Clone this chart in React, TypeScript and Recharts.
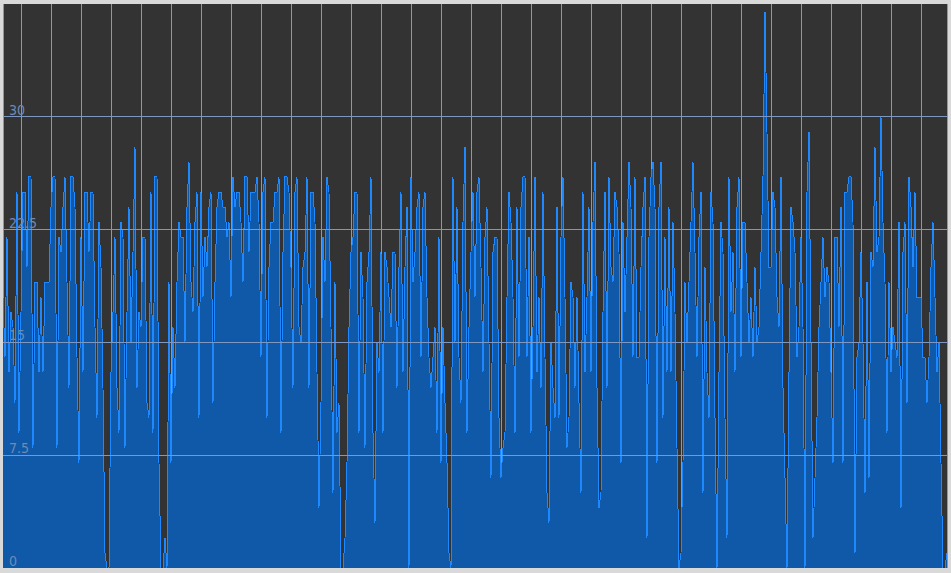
import { AreaChart, Area, XAxis, YAxis, CartesianGrid, ReferenceLine } from 'recharts';

// values, left to right, one point every 2px
const part1 = [18, 14, 22, 13, 17, 16, 11, 25, 9, 17, 25, 25, 20, 26, 26, 8, 19, 19, 13, 18, 13, 19, 19, 19, 24, 26, 26, 8, 22, 21, 24, 26, 19, 12, 26, 26, 24, 14, 7, 22, 13, 25, 25, 21, 25, 25, 16, 10, 23, 20, 12, 1, 0, 0, 13, 17, 22, 12, 9];
const part2 = [23, 22, 8, 17, 24, 15, 21, 28, 12, 17, 16, 22, 22, 11, 10, 25, 9, 26, 26, 7, 0, 0, 2, 0, 19, 7, 16, 12, 19, 23, 22, 22, 15, 24, 27, 19, 17, 23, 25, 10, 25, 18, 22, 20, 24, 25, 11, 19, 24, 25, 25, 24, 24, 22, 23, 18, 26, 24, 25, 25];
const part3 = [23, 19, 26, 26, 21, 25, 25, 25, 26, 23, 14, 25, 26, 10, 20, 23, 23, 25, 25, 26, 9, 21, 26, 26, 25, 20, 12, 25, 26, 16, 15, 20, 21, 26, 12, 25, 25, 23, 13, 4, 11, 22, 19, 26, 25, 16, 5, 19, 9, 11, 0, 0, 2, 7, 16, 21, 22, 25, 25];
const part4 = [9, 21, 18, 8, 19, 21, 26, 9, 3, 15, 13, 21, 9, 21, 20, 18, 16, 21, 21, 12, 20, 25, 13, 20, 24, 0, 26, 19, 21, 24, 25, 14, 24, 25, 18, 14, 12, 14, 16, 9, 22, 7, 16, 11, 7, 1, 0, 26, 15, 24, 14, 11, 23, 28, 9, 16, 21, 25, 18];
const part5 = [25, 26, 20, 13, 22, 24, 15, 6, 21, 22, 22, 10, 6, 8, 9, 18, 25, 23, 18, 9, 24, 14, 24, 26, 26, 14, 22, 9, 16, 26, 13, 18, 12, 25, 14, 5, 3, 15, 12, 10, 24, 10, 22, 26, 18, 8, 10, 19, 18, 12, 18, 11, 5, 25, 13, 18, 24, 13, 23];
const part6 = [27, 12, 4, 5, 17, 25, 12, 26, 20, 19, 25, 24, 21, 7, 23, 17, 22, 27, 24, 14, 26, 14, 14, 20, 24, 26, 2, 22, 26, 27, 24, 7, 24, 27, 10, 22, 13, 24, 13, 23, 17, 8, 0, 1, 7, 19, 15, 19, 23, 27, 21, 14, 22, 25, 5, 20, 13, 10, 25];
const part7 = [23, 10, 0, 13, 23, 21, 10, 2, 26, 17, 21, 13, 24, 26, 14, 23, 23, 19, 15, 18, 14, 20, 15, 16, 21, 26, 37, 29, 20, 20, 25, 24, 18, 16, 26, 12, 6, 0, 13, 24, 23, 21, 14, 16, 22, 16, 0, 25, 29, 15, 2, 6, 10, 16, 19, 22, 18, 20, 19];
const part8 = [13, 7, 22, 22, 16, 24, 7, 25, 25, 26, 26, 23, 1, 14, 15, 21, 15, 5, 19, 6, 21, 20, 28, 21, 22, 30, 23, 19, 9, 19, 13, 16, 15, 14, 23, 4, 21, 23, 11, 26, 24, 20, 25, 18, 18, 18, 14, 14, 11, 14, 20, 23, 18, 13, 15, 7, 0, 0, 1];

const values = [...part1, ...part2, ...part3, ...part4, ...part5, ...part6, ...part7, ...part8];

const yTicks = [0, 7.5, 15, 22.5, 30];
const gridLines = [7.5, 15, 22.5, 30];
// vertical grid every 15 points
const xGridTicks = Array.from({ length: 31 }, (_, k) => 9.25 + 15 * k);

const data = values.map((v, i) => ({ i, v }));

function YTick(props: any) {
  const { y, payload } = props;
  return (
    <text x={9} y={y - 2} fill="#6f8ab4" fontSize={14} fontFamily="DejaVu Sans Condensed">
      {payload.value}
    </text>
  );
}

export default function App() {
  return (
    <div style={{ position: 'absolute', left: 0, top: 0, width: 951, height: 573, background: '#d9d9d9', shapeRendering: 'crispEdges' }}>
      <AreaChart width={951} height={573} data={data} margin={{ top: 4, right: 4, bottom: 5, left: 3 }}>
        <CartesianGrid horizontal={false} stroke="#8a98ae" fill="#333333" />
        <XAxis dataKey="i" type="number" domain={[0, values.length - 1]} ticks={xGridTicks} interval={0} hide />
        <Area
          type="linear"
          dataKey="v"
          stroke="#1e88ff"
          strokeWidth={1}
          fill="#1059a8"
          fillOpacity={1}
          dot={false}
          activeDot={false}
          isAnimationActive={false}
        />
        {gridLines.map((g) => (
          <ReferenceLine key={g} y={g} stroke="#7d97c0" />
        ))}
        <YAxis
          domain={[0, 37.5]}
          ticks={yTicks}
          interval={0}
          mirror
          axisLine={false}
          tickLine={false}
          tick={YTick}
          allowDataOverflow
        />
      </AreaChart>
    </div>
  );
}
